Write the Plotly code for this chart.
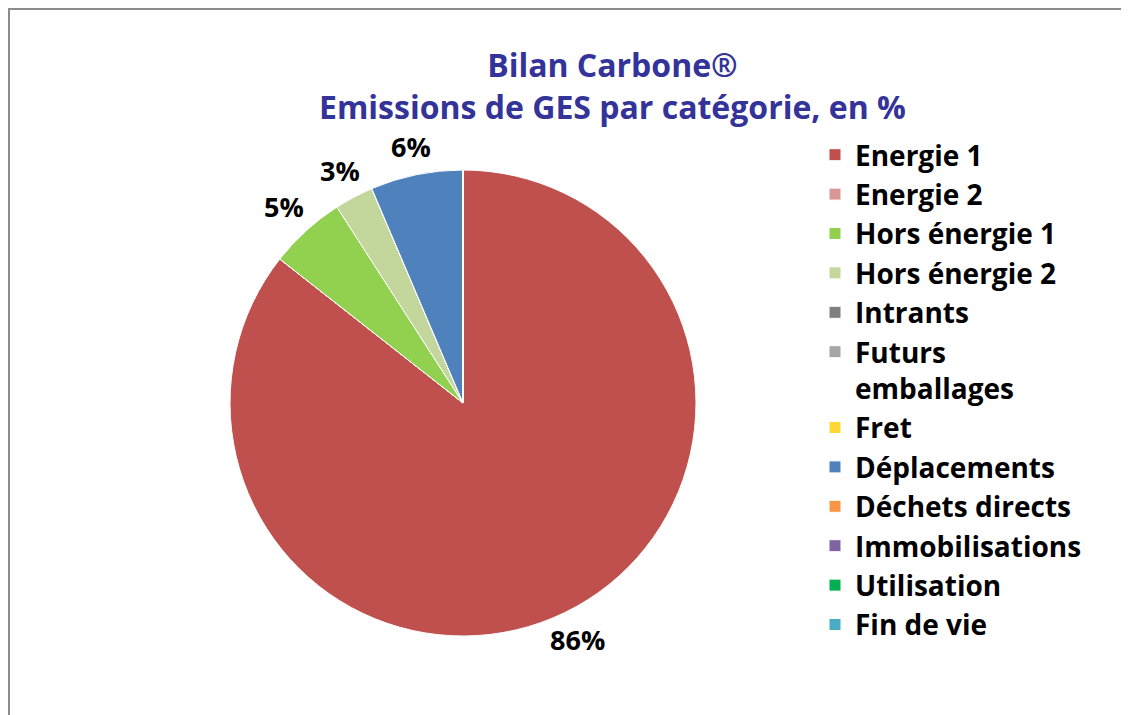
import math
import plotly.graph_objects as go

categories = ["Energie 1", "Energie 2", "Hors énergie 1", "Hors énergie 2", "Intrants",
              "Futurs<br>emballages", "Fret", "Déplacements", "Déchets directs",
              "Immobilisations", "Utilisation", "Fin de vie"]
values = [85.6, 0, 5.3, 2.7, 0, 0, 0, 6.4, 0, 0, 0, 0]
colors = ["#C0504D", "#D99694", "#92D050", "#C3D69B", "#7F7F7F", "#A5A5A5",
          "#FFD733", "#4F81BD", "#F79646", "#8064A2", "#00B050", "#4BACC6"]

W, H = 1129, 715
FONT = "Open Sans"
LABEL_SIZE = 27

# pie placement (figure pixels)
CX, CY, R = 455, 395, 233
GAP = 17

fig = go.Figure(go.Pie(
    labels=categories,
    values=values,
    sort=False,
    direction="clockwise",
    rotation=0,
    marker=dict(colors=colors, line=dict(color="white", width=1)),
    textinfo="none",
    hoverinfo="label+percent",
    domain=dict(x=[(CX - R) / W, (CX + R) / W], y=[1 - (CY + R) / H, 1 - (CY - R) / H]),
))

# percentage labels placed outside each non-zero slice, angle derived from the data
total = sum(values)
cum = 0.0
annotations = []
for v in values:
    if v > 0:
        txt = f"{round(v / total * 100)}%"
        mid = (cum + v / 2) / total * 2 * math.pi
        ux, uy = math.sin(mid), -math.cos(mid)
        bw, bh = 0.62 * LABEL_SIZE * len(txt), 0.85 * LABEL_SIZE
        edge = min(bw / 2 / max(abs(ux), 1e-6), bh / 2 / max(abs(uy), 1e-6))
        d = R + GAP + edge
        x = CX + d * ux
        y = CY + d * uy
        annotations.append(dict(
            x=x / W, y=1 - y / H, xref="paper", yref="paper",
            text=txt, showarrow=False,
            xanchor="center", yanchor="middle",
            font=dict(family=FONT, size=LABEL_SIZE, color="black", weight="bold"),
        ))
    cum += v

annotations.append(dict(
    x=604 / W, y=1 - 77 / H, xref="paper", yref="paper",
    text="Bilan Carbone®<br>Emissions de GES par catégorie, en %",
    showarrow=False, xanchor="center", yanchor="middle", align="center",
    font=dict(family=FONT, size=32, color="#333399", weight="bold"),
))

fig.update_layout(
    width=W, height=H,
    margin=dict(l=0, r=0, t=0, b=0),
    paper_bgcolor="white",
    font=dict(family=FONT),
    annotations=annotations,
    legend=dict(
        x=807 / W, xanchor="left",
        y=1 - 122 / H, yanchor="top",
        valign="top",
        font=dict(family=FONT, size=28, color="black", weight="bold"),
        bgcolor="rgba(0,0,0,0)",
    ),
    showlegend=True,
    shapes=[dict(type="rect", xref="paper", yref="paper",
                 x0=1 / W, x1=1.02, y0=-0.02, y1=1 - 1 / H,
                 line=dict(color="#8C8C8C", width=2), fillcolor="rgba(0,0,0,0)")],
)

fig.write_html("out.html")
